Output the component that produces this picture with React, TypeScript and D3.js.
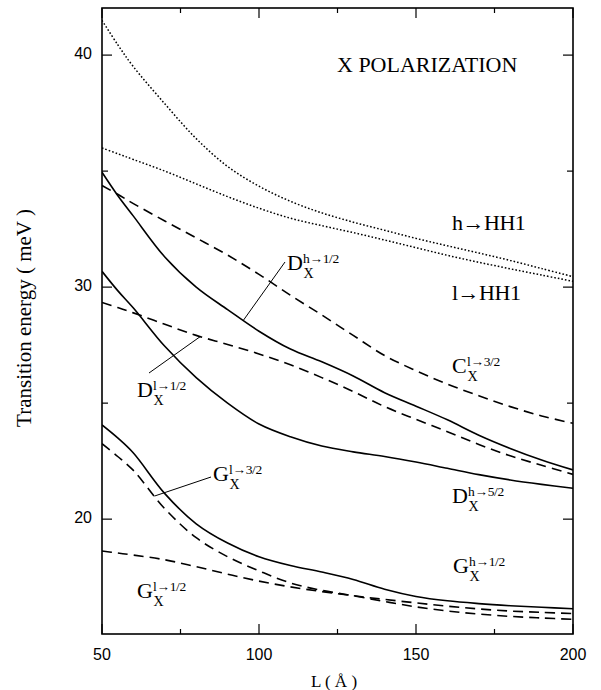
import React from 'react';
import * as d3 from 'd3';

// Well width L (Å) sampled along each curve
const lengths = [50, 55, 60, 70, 80, 90, 100, 110, 120, 130, 140, 150, 160, 170, 180, 190, 200];

// Transition energies (meV)
const hToHH1 = [41.5, 40.45, 39.5, 37.9, 36.4, 35.2, 34.35, 33.7, 33.2, 32.8, 32.45, 32.1, 31.78, 31.47, 31.15, 30.8, 30.45];
const lToHH1 = [36.0, 35.75, 35.5, 35.0, 34.45, 33.9, 33.4, 32.97, 32.65, 32.35, 32.03, 31.7, 31.37, 31.07, 30.79, 30.52, 30.25];
const dH12 = [34.95, 33.95, 33.06, 31.3, 30.0, 29.03, 28.1, 27.33, 26.78, 26.17, 25.45, 24.87, 24.28, 23.62, 23.05, 22.55, 22.12];
const cL32 = [34.38, 34.0, 33.6, 32.85, 32.12, 31.38, 30.55, 29.65, 28.8, 27.92, 27.05, 26.4, 25.82, 25.32, 24.85, 24.45, 24.13];
const dL12 = [29.34, 29.12, 28.89, 28.4, 27.92, 27.53, 27.12, 26.65, 26.1, 25.5, 24.85, 24.3, 23.77, 23.22, 22.73, 22.32, 21.93];
const dH52 = [30.68, 29.85, 29.1, 27.45, 26.1, 25.0, 24.1, 23.55, 23.15, 22.9, 22.7, 22.46, 22.19, 21.92, 21.69, 21.5, 21.33];
const gH12 = [24.06, 23.5, 22.85, 21.1, 19.8, 18.97, 18.38, 18.0, 17.72, 17.4, 16.98, 16.67, 16.48, 16.36, 16.27, 16.2, 16.14];
const gL32 = [23.25, 22.7, 22.1, 20.45, 19.2, 18.38, 17.77, 17.25, 16.93, 16.7, 16.45, 16.22, 16.04, 15.91, 15.81, 15.74, 15.68];
const gL12 = [18.63, 18.54, 18.45, 18.25, 17.95, 17.63, 17.33, 17.08, 16.88, 16.7, 16.54, 16.39, 16.25, 16.13, 16.04, 15.98, 15.93];

// Axis ticks
const xMajor = [50, 100, 150, 200];
const xMinor = [75, 125, 175];
const yMajor = [20, 30, 40];
const yMinor = [25, 35];

type Style = 'solid' | 'dashed' | 'dotted';
const series: { values: number[]; style: Style }[] = [
  { values: hToHH1, style: 'dotted' },
  { values: lToHH1, style: 'dotted' },
  { values: dH12, style: 'solid' },
  { values: cL32, style: 'dashed' },
  { values: dL12, style: 'dashed' },
  { values: dH52, style: 'solid' },
  { values: gH12, style: 'solid' },
  { values: gL32, style: 'dashed' },
  { values: gL12, style: 'dashed' },
];

const W = 601;
const H = 690;
const left = 102;
const right = 573;
const top = 8;
const bottom = 634;

const x = d3.scaleLinear().domain([50, 200]).range([left, right]);
const y = d3.scaleLinear().domain([15.05, 42.03]).range([bottom, top]);

const serif = "'Liberation Serif', 'Times New Roman', serif";
const sans = "'Liberation Sans', Arial, sans-serif";

const line = d3
  .line<number>()
  .x((_, i) => x(lengths[i]))
  .y((d) => y(d))
  .curve(d3.curveCatmullRom.alpha(0.5));

// point on a curve at well width L (linear between samples)
function at(values: number[], L: number): [number, number] {
  const v = d3.scaleLinear().domain(lengths).range(values)(L);
  return [x(L), y(v)];
}

const dashFor: Record<Style, string | undefined> = {
  solid: undefined,
  dashed: '10,6',
  dotted: '1.6,2',
};

// Letter with superscript transition and subscript X
function Sym(props: { px: number; py: number; main: string; sup: string; w: number }) {
  const { px, py, main, sup, w } = props;
  return (
    <text fontFamily={serif} fill="#000" x={px} y={py} fontSize={22}>
      {main}
      <tspan x={px + w} y={py - 7} fontSize={13.5} letterSpacing={-0.3}>{sup}</tspan>
      <tspan x={px + w + 0.5} y={py + 8} fontSize={14}>X</tspan>
    </text>
  );
}

export default function App() {
  const leaderDh12 = at(dH12, 95);
  const leaderDl12 = at(dL12, 81.3);
  const leaderGl32 = at(gL32, 66.7);
  return (
    <svg
      width={W}
      height={H}
      viewBox={`0 0 ${W} ${H}`}
      style={{ position: 'absolute', left: 0, top: 0, background: '#fff' }}
    >
      <defs>
        <clipPath id="plot">
          <rect x={left} y={top} width={right - left} height={bottom - top} />
        </clipPath>
      </defs>

      <g clipPath="url(#plot)" fill="none" stroke="#000">
        {series.map((s, i) => (
          <path
            key={i}
            d={line(s.values) || ''}
            strokeWidth={s.style === 'dotted' ? 1.5 : 1.6}
            strokeDasharray={dashFor[s.style]}
          />
        ))}
      </g>

      {/* frame */}
      <rect x={left} y={top} width={right - left} height={bottom - top} fill="none" stroke="#000" strokeWidth={1.6} />

      {/* ticks, pointing inward on all four sides */}
      <g stroke="#000" strokeWidth={1.2}>
        {xMajor.map((t) => (
          <g key={'xm' + t}>
            <line x1={x(t)} x2={x(t)} y1={bottom} y2={bottom - 10} />
            <line x1={x(t)} x2={x(t)} y1={top} y2={top + 10} />
          </g>
        ))}
        {xMinor.map((t) => (
          <g key={'xn' + t}>
            <line x1={x(t)} x2={x(t)} y1={bottom} y2={bottom - 5} />
            <line x1={x(t)} x2={x(t)} y1={top} y2={top + 5} />
          </g>
        ))}
        {yMajor.map((t) => (
          <g key={'ym' + t}>
            <line x1={left} x2={left + 10} y1={y(t)} y2={y(t)} />
            <line x1={right} x2={right - 10} y1={y(t)} y2={y(t)} />
          </g>
        ))}
        {yMinor.map((t) => (
          <g key={'yn' + t}>
            <line x1={left} x2={left + 6} y1={y(t)} y2={y(t)} />
            <line x1={right} x2={right - 6} y1={y(t)} y2={y(t)} />
          </g>
        ))}
      </g>

      {/* tick labels */}
      <g fontFamily={sans} fontSize={16} fill="#000">
        {xMajor.map((t) => (
          <text key={'xl' + t} x={x(t)} y={660} textAnchor="middle">{t}</text>
        ))}
        {yMajor.map((t) => (
          <text key={'yl' + t} x={92} y={y(t) + 4} textAnchor="end">{t}</text>
        ))}
      </g>

      {/* axis titles */}
      <text x={334} y={687} textAnchor="middle" fontFamily={serif} fontSize={17}>L ( Å )</text>
      <text
        transform="translate(31,318) rotate(-90)"
        textAnchor="middle"
        fontFamily={serif}
        fontSize={21}
      >
        Transition energy ( meV )
      </text>

      {/* annotations */}
      <g fontFamily={serif} fill="#000" fontSize={22}>
        <text x={337} y={72}>X POLARIZATION</text>
        <text x={452} y={230} letterSpacing={-0.5}>h→HH1</text>
        <text x={452} y={300} letterSpacing={-0.5}>l→HH1</text>
      </g>

      <Sym px={287} py={270} main="D" sup="h→1/2" w={16} />
      <Sym px={137} py={397} main="D" sup="l→1/2" w={16} />
      <Sym px={452} py={373} main="C" sup="l→3/2" w={15} />
      <Sym px={452} py={503} main="D" sup="h→5/2" w={16} />
      <Sym px={213} py={481} main="G" sup="l→3/2" w={16} />
      <Sym px={453} py={573} main="G" sup="h→1/2" w={16} />
      <Sym px={137} py={598} main="G" sup="l→1/2" w={16} />

      {/* leader lines */}
      <g stroke="#000" strokeWidth={1}>
        <line x1={285} y1={262} x2={leaderDh12[0]} y2={leaderDh12[1]} />
        <line x1={149} y1={373} x2={leaderDl12[0]} y2={leaderDl12[1]} />
        <line x1={211} y1={477} x2={leaderGl32[0]} y2={leaderGl32[1]} />
      </g>
    </svg>
  );
}
